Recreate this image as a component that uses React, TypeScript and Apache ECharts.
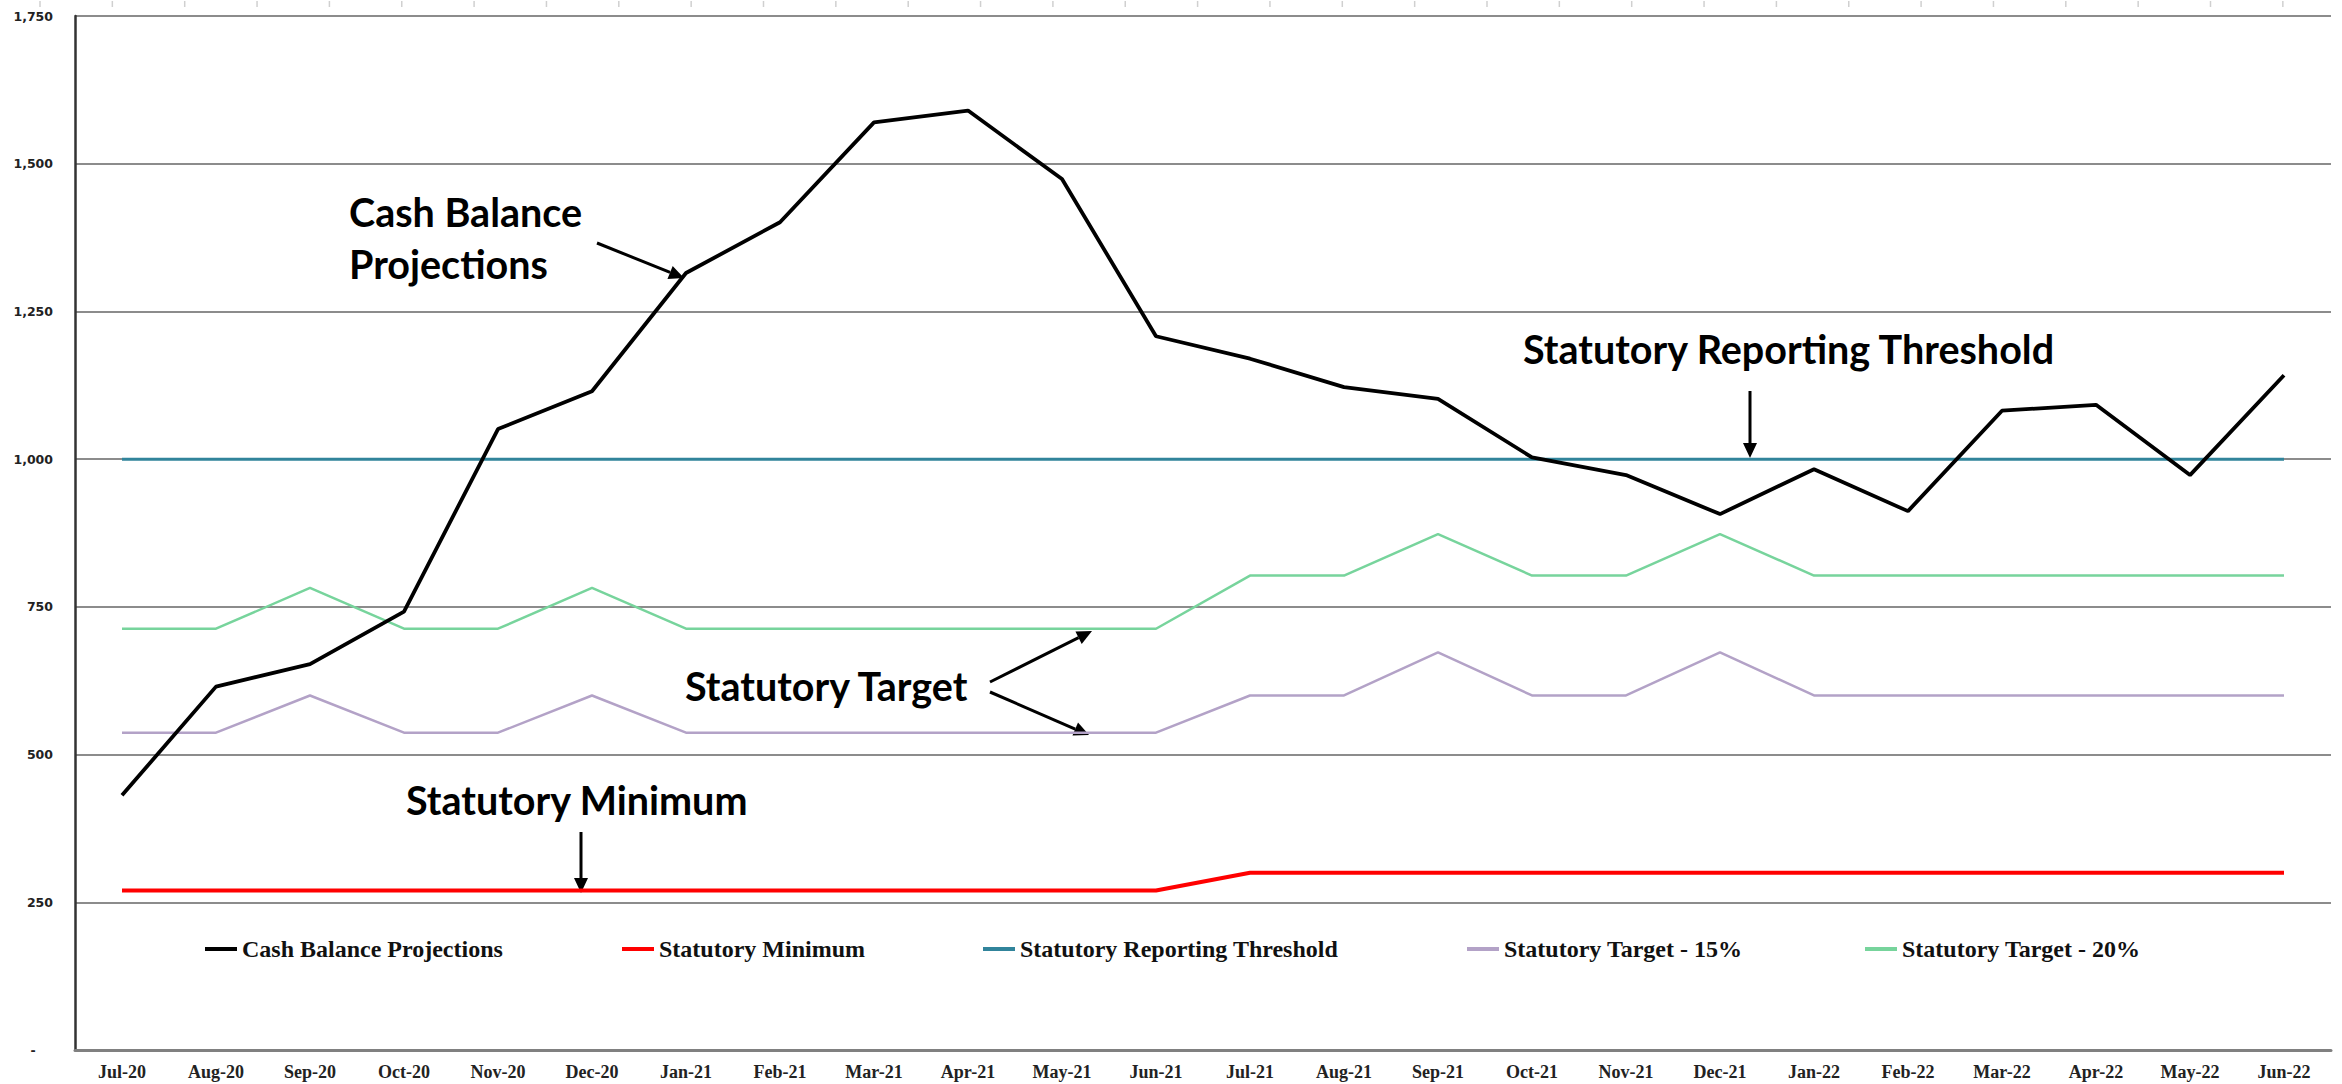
import React, { useEffect, useRef } from "react";
import * as echarts from "echarts";

const months = [
  "Jul-20", "Aug-20", "Sep-20", "Oct-20", "Nov-20", "Dec-20",
  "Jan-21", "Feb-21", "Mar-21", "Apr-21", "May-21", "Jun-21",
  "Jul-21", "Aug-21", "Sep-21", "Oct-21", "Nov-21", "Dec-21",
  "Jan-22", "Feb-22", "Mar-22", "Apr-22", "May-22", "Jun-22",
];

const cashBalance = [
  431, 615, 653, 742, 1051, 1115, 1315, 1401, 1570, 1590, 1474, 1208,
  1170, 1122, 1102, 1003, 973, 907, 983, 912, 1082, 1092, 973, 1142,
];

const statutoryMinimum = [
  270, 270, 270, 270, 270, 270, 270, 270, 270, 270, 270, 270,
  300, 300, 300, 300, 300, 300, 300, 300, 300, 300, 300, 300,
];

const reportingThreshold = [
  1000, 1000, 1000, 1000, 1000, 1000, 1000, 1000, 1000, 1000, 1000, 1000,
  1000, 1000, 1000, 1000, 1000, 1000, 1000, 1000, 1000, 1000, 1000, 1000,
];

const target15 = [
  537, 537, 600, 537, 537, 600, 537, 537, 537, 537, 537, 537,
  600, 600, 673, 600, 600, 673, 600, 600, 600, 600, 600, 600,
];

const target20 = [
  713, 713, 782, 713, 713, 782, 713, 713, 713, 713, 713, 713,
  803, 803, 873, 803, 803, 873, 803, 803, 803, 803, 803, 803,
];

const seriesNames = [
  "Cash Balance Projections",
  "Statutory Minimum",
  "Statutory Reporting Threshold",
  "Statutory Target - 15%",
  "Statutory Target - 20%",
];

const colors = ["#000000", "#ff0000", "#31849b", "#b3a2c7", "#77d49c"];
const widths = [3.8, 4, 3, 2.5, 2.5];
const legendLefts = [200, 617, 978, 1462, 1860];

function arrow(x1: number, y1: number, x2: number, y2: number) {
  const dx = x2 - x1;
  const dy = y2 - y1;
  const len = Math.sqrt(dx * dx + dy * dy);
  const ux = dx / len;
  const uy = dy / len;
  const hl = 15;
  const hw = 7;
  const bx = x2 - ux * hl;
  const by = y2 - uy * hl;
  return [
    {
      type: "line",
      shape: { x1, y1, x2: bx, y2: by },
      style: { stroke: "#000", lineWidth: 3 },
    },
    {
      type: "polygon",
      shape: {
        points: [
          [x2, y2],
          [bx - uy * hw, by + ux * hw],
          [bx + uy * hw, by - ux * hw],
        ],
      },
      style: { fill: "#000" },
    },
  ];
}

const annoFont = "Lato, 'Open Sans', sans-serif";

function annoText(text: string, x: number, y: number) {
  return {
    type: "text",
    x,
    y,
    style: {
      text,
      fill: "#000",
      font: `bold 39.5px ${annoFont}`,
      textVerticalAlign: "middle",
      verticalAlign: "middle",
    },
  };
}

function topTicks() {
  const out: any[] = [];
  for (let i = 0; i < 32; i++) {
    const x = 40 + i * 72.35;
    out.push({
      type: "line",
      shape: { x1: x, y1: 1, x2: x, y2: 7 },
      style: { stroke: "#d0d0d0", lineWidth: 1.5 },
    });
  }
  return out;
}

export default function App() {
  const ref = useRef<HTMLDivElement>(null);

  useEffect(() => {
    if (!ref.current) return;
    const chart = echarts.init(ref.current, undefined, { renderer: "svg" });
    const dataSets = [cashBalance, statutoryMinimum, reportingThreshold, target15, target20];

    const option = {
      animation: false,
      backgroundColor: "#ffffff",
      grid: { left: 75, top: 16, right: 11, bottom: 34, containLabel: false },
      legend: seriesNames.map((n, i) => ({
        data: [n],
        left: legendLefts[i],
        top: 932,
        icon: "rect",
        itemWidth: 32,
        itemHeight: 4,
        itemGap: 3,
        textStyle: {
          fontFamily: "'Liberation Serif', 'Times New Roman', serif",
          fontWeight: "bold",
          fontSize: 24,
          color: "#111",
        },
      })),
      xAxis: {
        type: "category",
        data: months,
        boundaryGap: true,
        axisLine: { show: true, lineStyle: { color: "#808080", width: 3 } },
        axisTick: { show: false },
        axisLabel: {
          interval: 0,
          margin: 13,
          fontFamily: "'Liberation Serif', 'Times New Roman', serif",
          fontWeight: "bold",
          fontSize: 18,
          color: "#222",
        },
        splitLine: { show: false },
      },
      yAxis: {
        type: "value",
        min: 0,
        max: 1750,
        interval: 250,
        axisLine: { show: true, lineStyle: { color: "#333", width: 2.5 } },
        axisTick: { show: false },
        axisLabel: {
          margin: 22,
          fontFamily: "'DejaVu Sans', sans-serif",
          fontWeight: "bold",
          fontSize: 12.5,
          color: "#222",
          formatter: (v: number) => (v === 0 ? "-    " : v.toLocaleString("en-US")),
        },
        splitLine: { show: true, lineStyle: { color: "#8c8c8c", width: 2 } },
      },
      series: seriesNames.map((n, i) => ({
        name: n,
        type: "line",
        data: dataSets[i],
        symbol: "none",
        showSymbol: false,
        lineStyle: { color: colors[i], width: widths[i] },
        itemStyle: { color: colors[i] },
        z: i === 0 ? 5 : 3,
      })),
      graphic: [
        ...topTicks(),
        annoText("Cash Balance", 349, 211),
        annoText("Projections", 349, 263),
        annoText("Statutory Reporting Threshold", 1523, 348),
        annoText("Statutory Target", 685, 685),
        annoText("Statutory Minimum", 406, 799),
        ...arrow(597, 243, 684, 278),
        ...arrow(1750, 391, 1750, 458),
        ...arrow(990, 682, 1092, 631),
        ...arrow(990, 692, 1089, 735),
        ...arrow(581, 832, 581, 893),
      ],
    };

    chart.setOption(option as any);
    return () => chart.dispose();
  }, []);

  return (
    <div
      ref={ref}
      style={{ position: "fixed", left: 0, top: 0, width: 2342, height: 1084, background: "#fff" }}
    />
  );
}
